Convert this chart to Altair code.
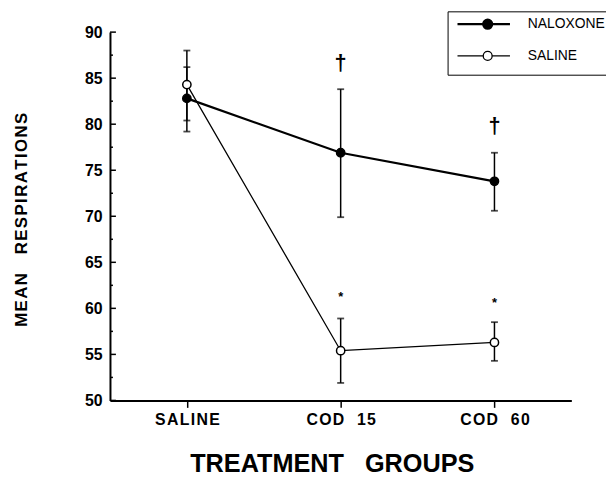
import altair as alt
import pandas as pd

# ---------------- data ----------------
categories = ["SALINE", "COD 15", "COD 60"]
series_names = ["NALOXONE", "SALINE"]

naloxone_mean = [82.8, 76.9, 73.8]
naloxone_lo = [79.2, 69.9, 70.6]
naloxone_hi = [86.2, 83.8, 76.9]

saline_mean = [84.3, 55.4, 56.3]
saline_lo = [80.4, 51.9, 54.3]
saline_hi = [88.0, 58.9, 58.5]

dagger_groups = ["COD 15", "COD 60"]
dagger_values = [86.5, 79.7]
dagger_text = ["\u2020", "\u2020"]

star_groups = ["COD 15", "COD 60"]
star_values = [61.6, 60.9]
star_text = ["*", "*"]

y_major_ticks = [50, 55, 60, 65, 70, 75, 80, 85, 90]
y_minor_ticks = [52.5, 57.5, 62.5, 67.5, 72.5, 77.5, 82.5, 87.5]

# ---------------- tables ----------------
rows = []
for name, m, lo, hi in [
    ("NALOXONE", naloxone_mean, naloxone_lo, naloxone_hi),
    ("SALINE", saline_mean, saline_lo, saline_hi),
]:
    for g, a, b, c in zip(categories, m, lo, hi):
        rows.append({"group": g, "series": name, "mean": a, "lo": b, "hi": c})
df = pd.DataFrame(rows)

caps = pd.DataFrame(
    [{"group": r["group"], "v": r["lo"]} for r in rows]
    + [{"group": r["group"], "v": r["hi"]} for r in rows]
)
daggers = pd.DataFrame({"group": dagger_groups, "v": dagger_values, "t": dagger_text})
stars = pd.DataFrame({"group": star_groups, "v": star_values, "t": star_text})
major = pd.DataFrame({"v": y_major_ticks})
minor = pd.DataFrame({"v": y_minor_ticks})

FONT = "Liberation Sans"
HAIR = "\u200a"
NB = "\u00a0"

xscale = alt.Scale(type="point", domain=categories, padding=0.5)
yscale = alt.Scale(domain=[50, 90], nice=False, zero=False)

x_axis = alt.Axis(
    title="TREATMENT" + NB * 3 + "GROUPS",
    labelExpr="join(split(replace(datum.label, ' ', '" + NB + NB + "'), ''), '" + HAIR + "')",
    labelFontSize=16,
    labelFontWeight="bold",
    labelAngle=0,
    labelPadding=4,
    tickSize=7,
    tickWidth=1.5,
    tickColor="black",
    titleFontSize=25.5,
    titleFontWeight="bold",
    titleBaseline="alphabetic",
    titleX=224,
    titleY=72,
    titleAnchor="middle",
    titleAlign="center",
)
y_axis = alt.Axis(
    title=HAIR.join("MEAN") + NB * 4 + HAIR.join("RESPIRATIONS"),
    values=y_major_ticks,
    ticks=False,
    labelFontSize=16,
    labelFontWeight="bold",
    labelPadding=8,
    titleFontSize=17,
    titleFontWeight="bold",
    titleBaseline="alphabetic",
    titleAngle=270,
    titleAlign="center",
    titleX=-84,
    titleY=189,
)

X = alt.X("group:N", scale=xscale, axis=x_axis)


def Y(field):
    return alt.Y(field, scale=yscale, axis=y_axis)


# legend symbol: a horizontal line with a circle in its middle; the path is
# laid out so that the entry height stays small (symbolSize 100 -> unit = 5px)
sym_path = (
    "M-0.6,0H4.6A0.9,0.9,0,1,1,6.4,0A0.9,0.9,0,1,1,4.6,0M6.4,0H10"
)

legend = alt.Legend(
    title=NB,
    titleOrient="bottom",
    titleFontSize=5,
    titlePadding=1,
    orient="none",
    legendX=341,
    legendY=-21,
    symbolType=sym_path,
    symbolSize=100,
    symbolStrokeColor="black",
    strokeColor="black",
    padding=6,
    rowPadding=14,
    labelFont=FONT,
    labelFontSize=14,
    labelColor="black",
    labelOffset=61,
)

lines = (
    alt.Chart(df)
    .mark_line(color="black")
    .encode(
        x=X,
        y=Y("mean:Q"),
        strokeWidth=alt.StrokeWidth(
            "series:N",
            scale=alt.Scale(domain=series_names, range=[2.3, 1.3]),
            legend=legend,
        ),
    )
)

bars = (
    alt.Chart(df)
    .mark_rule(color="black", strokeWidth=1.5)
    .encode(x=X, y=Y("lo:Q"), y2="hi:Q")
)

cap_marks = (
    alt.Chart(caps)
    .mark_tick(color="black", size=7, thickness=1.8, orient="horizontal")
    .encode(x=X, y=Y("v:Q"))
)

points = (
    alt.Chart(df)
    .mark_point(filled=True, size=70, stroke="black", strokeWidth=1.5, opacity=1)
    .encode(
        x=X,
        y=Y("mean:Q"),
        fill=alt.Fill(
            "series:N",
            scale=alt.Scale(domain=series_names, range=["black", "white"]),
            legend=legend,
        ),
    )
)

dagger_marks = (
    alt.Chart(daggers)
    .mark_text(font=FONT, fontSize=22, fontWeight="bold", baseline="alphabetic", dy=6, color="black")
    .encode(x=X, y=Y("v:Q"), text="t:N")
)

star_marks = (
    alt.Chart(stars)
    .mark_text(font=FONT, fontSize=13, fontWeight="bold", baseline="alphabetic", dy=7, color="black")
    .encode(x=X, y=Y("v:Q"), text="t:N")
)

major_ticks = (
    alt.Chart(major)
    .mark_rule(color="black", strokeWidth=1.5)
    .encode(y=Y("v:Q"), x=alt.value(0), x2=alt.value(6))
)
minor_ticks = (
    alt.Chart(minor)
    .mark_rule(color="black", strokeWidth=1.5)
    .encode(y=Y("v:Q"), x=alt.value(0), x2=alt.value(3))
)

chart = (
    alt.layer(lines, bars, cap_marks, major_ticks, minor_ticks, dagger_marks, star_marks, points)
    .properties(
        width=466,
        height=372,
        padding={"left": 103, "top": 22, "right": 35, "bottom": 78},
        autosize=alt.AutoSizeParams(type="none"),
        background="white",
    )
    .configure_axis(
        labelFont=FONT,
        titleFont=FONT,
        labelColor="black",
        titleColor="black",
        domainColor="black",
        domainWidth=2,
        grid=False,
    )
    .configure_view(stroke=None)
)

chart.save("out.html", embed_options={"renderer": "svg", "actions": False})
